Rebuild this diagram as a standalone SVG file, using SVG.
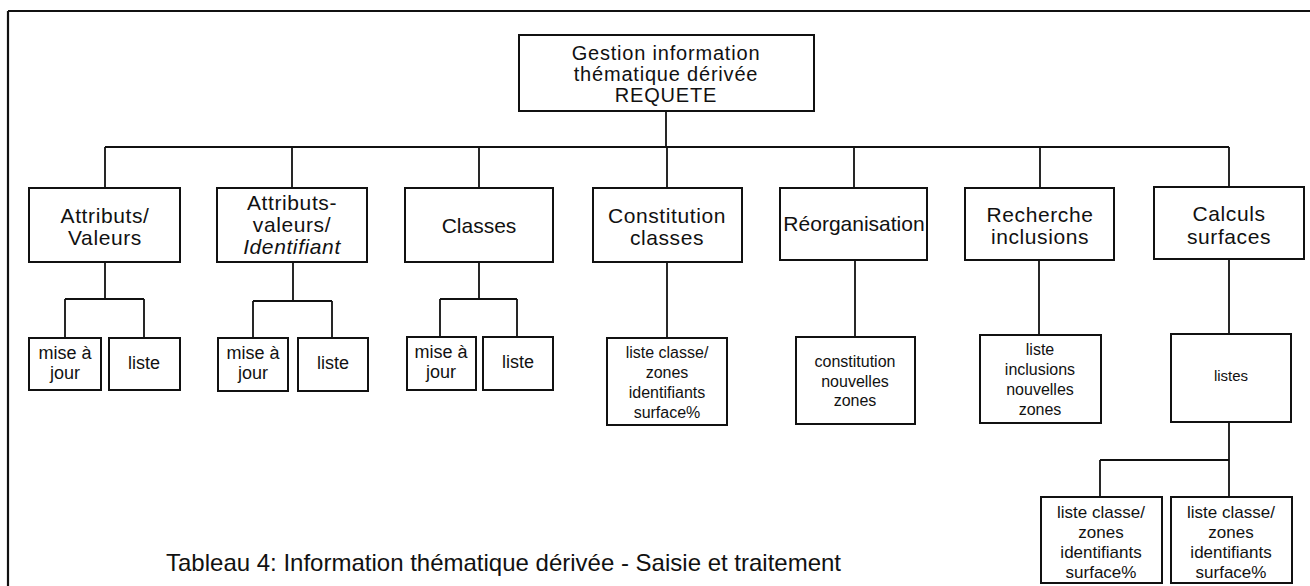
<svg xmlns="http://www.w3.org/2000/svg" width="1310" height="586" viewBox="0 0 1310 586">
<style>
.box{fill:#fff;stroke:#111;stroke-width:2}
.ln{fill:none;stroke:#111;stroke-width:1.8}
text{font-family:"Liberation Sans",Arial,sans-serif;fill:#111;text-anchor:middle;dominant-baseline:central}
.t0{font-size:20px;letter-spacing:0.8px}
.t1{font-size:21px;letter-spacing:0.6px}
.t2{font-size:18px}
.t3{font-size:16px}
.t4{font-size:17px}
.cap{font-size:24px;text-anchor:start;dominant-baseline:alphabetic}
</style>
<g id="frame">
<path class="ln" d="M8 11H1310M8 11V586" style="stroke-width:2.2"/>
</g>
<g id="connectors">
<path class="ln" d="M666 111V147M105 147H1229M105 147V188M292 147V188M479 147V188M667 147V188M854 147V188M1040 147V188M1229 147V188"/>
<path class="ln" d="M105 262V299M65 299H144M65 299V338M144 299V338"/>
<path class="ln" d="M293 262V301M253 301H332M253 301V338M332 301V338"/>
<path class="ln" d="M479 262V299M440 299H517M440 299V337M517 299V337"/>
<path class="ln" d="M667 262V338"/>
<path class="ln" d="M855 260V337"/>
<path class="ln" d="M1039 260V335"/>
<path class="ln" d="M1229 259V334M1229 422V460M1100 460H1229M1100 460V497M1229 460V497"/>
</g>
<g id="root">
<rect class="box" x="519" y="35" width="295" height="76"/>
<text class="t0" x="666" y="52.5">Gestion information</text>
<text class="t0" x="666" y="73.5">thématique dérivée</text>
<text class="t0" x="666" y="94.5">REQUETE</text>
</g>
<g id="attributs-valeurs">
<rect class="box" x="29" y="188" width="151" height="74"/>
<text class="t1" x="105" y="215">Attributs/</text>
<text class="t1" x="105" y="237">Valeurs</text>
</g>
<g id="attributs-identifiant">
<rect class="box" x="217" y="188" width="150" height="74"/>
<text class="t1" x="292" y="202">Attributs-</text>
<text class="t1" x="292" y="224">valeurs/</text>
<text class="t1" x="292" y="246" font-style="italic">Identifiant</text>
</g>
<g id="classes">
<rect class="box" x="405" y="188" width="148" height="74"/>
<text class="t1" x="479" y="225" style="letter-spacing:0">Classes</text>
</g>
<g id="constitution-classes">
<rect class="box" x="593" y="188" width="149" height="74"/>
<text class="t1" x="667" y="215">Constitution</text>
<text class="t1" x="667" y="237">classes</text>
</g>
<g id="reorganisation">
<rect class="box" x="780" y="188" width="147" height="72"/>
<text class="t1" x="854" y="223" style="letter-spacing:0">Réorganisation</text>
</g>
<g id="recherche-inclusions">
<rect class="box" x="965" y="188" width="149" height="72"/>
<text class="t1" x="1040" y="214">Recherche</text>
<text class="t1" x="1040" y="236">inclusions</text>
</g>
<g id="calculs-surfaces">
<rect class="box" x="1154" y="187" width="150" height="72"/>
<text class="t1" x="1229" y="213">Calculs</text>
<text class="t1" x="1229" y="236">surfaces</text>
</g>
<g id="av-maj">
<rect class="box" x="29" y="338" width="72" height="52"/>
<text class="t2" x="65" y="353">mise à</text>
<text class="t2" x="65" y="373">jour</text>
</g>
<g id="av-liste">
<rect class="box" x="109" y="338" width="71" height="52"/>
<text class="t2" x="144" y="363">liste</text>
</g>
<g id="ai-maj">
<rect class="box" x="218" y="338" width="70" height="53"/>
<text class="t2" x="253" y="353">mise à</text>
<text class="t2" x="253" y="373">jour</text>
</g>
<g id="ai-liste">
<rect class="box" x="298" y="338" width="70" height="53"/>
<text class="t2" x="333" y="363">liste</text>
</g>
<g id="cl-maj">
<rect class="box" x="407" y="337" width="69" height="53"/>
<text class="t2" x="441" y="352">mise à</text>
<text class="t2" x="441" y="372">jour</text>
</g>
<g id="cl-liste">
<rect class="box" x="483" y="337" width="70" height="53"/>
<text class="t2" x="518" y="362">liste</text>
</g>
<g id="cc-liste">
<rect class="box" x="607" y="338" width="120" height="87"/>
<text class="t3" x="667" y="352">liste classe/</text>
<text class="t3" x="667" y="372">zones</text>
<text class="t3" x="667" y="392">identifiants</text>
<text class="t3" x="667" y="412">surface%</text>
</g>
<g id="re-constitution">
<rect class="box" x="796" y="337" width="119" height="87"/>
<text class="t3" x="855" y="361">constitution</text>
<text class="t3" x="855" y="381">nouvelles</text>
<text class="t3" x="855" y="400">zones</text>
</g>
<g id="ri-liste">
<rect class="box" x="980" y="335" width="121" height="88"/>
<text class="t3" x="1040" y="349">liste</text>
<text class="t3" x="1040" y="369">inclusions</text>
<text class="t3" x="1040" y="389">nouvelles</text>
<text class="t3" x="1040" y="409">zones</text>
</g>
<g id="cs-listes">
<rect class="box" x="1171" y="334" width="120" height="88"/>
<text class="t3" x="1231" y="375" style="font-size:15px">listes</text>
</g>
<g id="cs-liste-1">
<rect class="box" x="1041" y="497" width="121" height="86"/>
<text class="t4" x="1101" y="512">liste classe/</text>
<text class="t4" x="1101" y="532">zones</text>
<text class="t4" x="1101" y="552">identifiants</text>
<text class="t4" x="1101" y="572">surface%</text>
</g>
<g id="cs-liste-2">
<rect class="box" x="1171" y="497" width="121" height="86"/>
<text class="t4" x="1231" y="512">liste classe/</text>
<text class="t4" x="1231" y="532">zones</text>
<text class="t4" x="1231" y="552">identifiants</text>
<text class="t4" x="1231" y="572">surface%</text>
</g>
<g id="caption">
<text class="cap" x="166" y="571">Tableau 4: Information thématique dérivée - Saisie et traitement</text>
</g>
</svg>
